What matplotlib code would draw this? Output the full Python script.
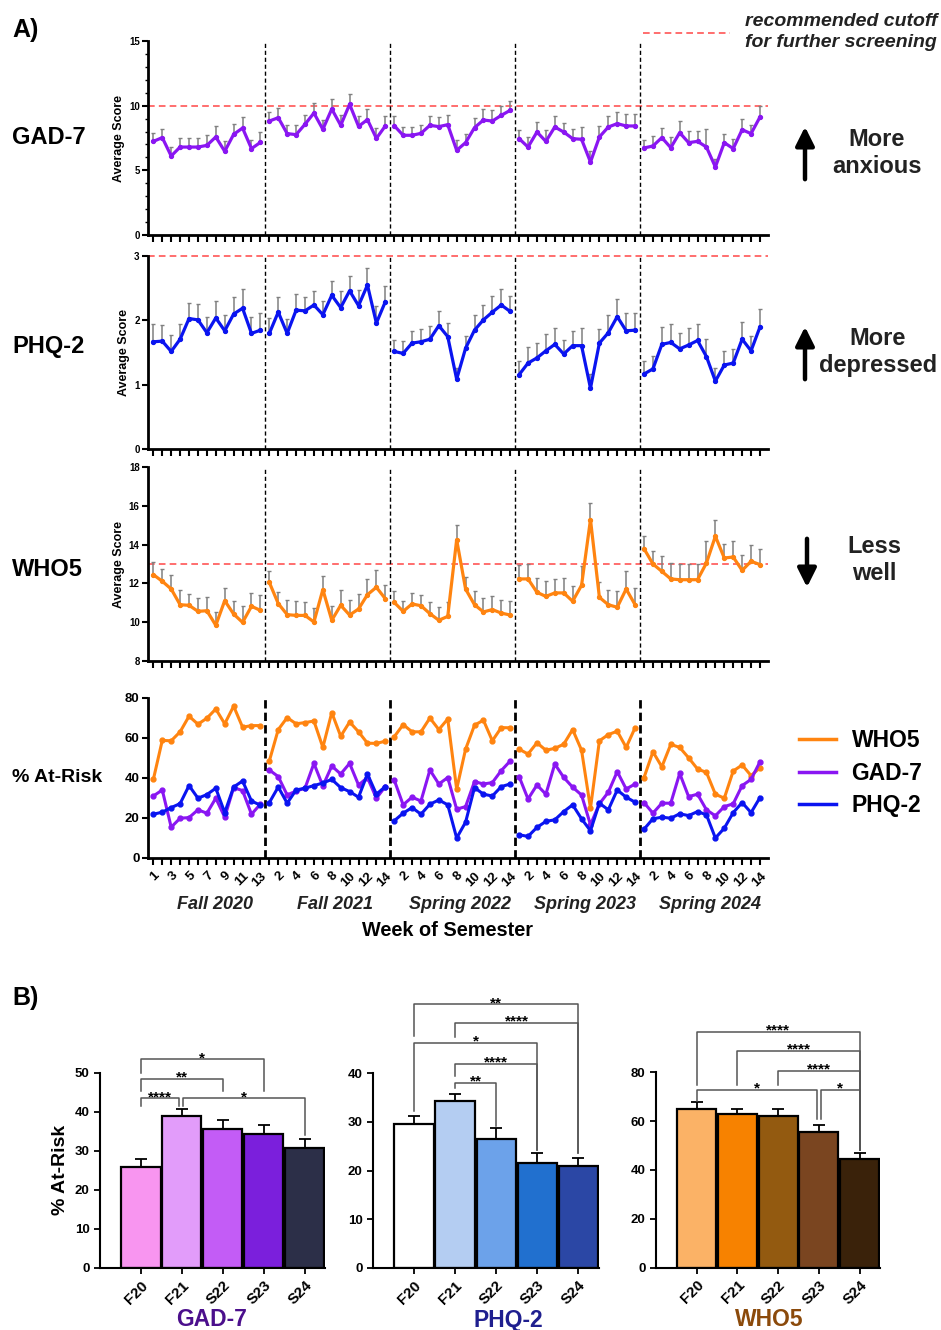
import numpy as np
import matplotlib.pyplot as plt
from matplotlib.lines import Line2D
from matplotlib.patches import FancyArrowPatch
from matplotlib.transforms import blended_transform_factory

plt.rcParams['font.family'] = ['Liberation Sans', 'DejaVu Sans']
plt.rcParams['font.weight'] = 'bold'
plt.rcParams['axes.labelweight'] = 'bold'

# ---------------- Panel A data (one list per semester) ----------------
semesters = ['Fall 2020', 'Fall 2021', 'Spring 2022', 'Spring 2023', 'Spring 2024']
n_weeks = [13, 14, 14, 14, 14]

gad7_mean = [
    [7.24, 7.53, 6.11, 6.80, 6.80, 6.80, 6.93, 7.58, 6.47, 7.78, 8.27, 6.68, 7.16],
    [8.81, 9.07, 7.84, 7.76, 8.56, 9.43, 8.17, 9.74, 8.48, 10.10, 8.40, 8.92, 7.47, 8.43],
    [8.45, 7.71, 7.71, 7.86, 8.48, 8.38, 8.53, 6.55, 7.14, 8.30, 8.89, 8.81, 9.25, 9.64],
    [7.45, 6.80, 7.96, 7.24, 8.35, 7.96, 7.45, 7.40, 5.64, 7.58, 8.35, 8.61, 8.43, 8.43],
    [6.73, 6.88, 7.53, 6.75, 7.91, 7.14, 7.24, 6.80, 5.26, 7.14, 6.68, 8.14, 7.84, 9.12],
]
gad7_err = [
    [0.64, 0.70, 0.67, 0.72, 0.72, 0.72, 0.77, 0.82, 0.77, 0.77, 0.85, 0.70, 0.80],
    [0.70, 0.75, 0.64, 0.72, 0.72, 0.80, 0.70, 0.80, 0.80, 0.82, 0.82, 0.82, 0.80, 0.80],
    [0.72, 0.64, 0.64, 0.67, 0.72, 0.72, 0.77, 0.82, 0.64, 0.77, 0.82, 0.82, 0.72, 0.72],
    [0.64, 0.77, 0.77, 0.85, 0.82, 0.70, 0.72, 0.95, 0.82, 0.82, 0.82, 0.88, 0.90, 0.90],
    [0.64, 0.75, 0.77, 0.82, 0.88, 0.90, 0.80, 1.37, 0.64, 0.70, 0.77, 0.85, 0.64, 0.82],
]

phq2_mean = [
    [1.67, 1.68, 1.52, 1.71, 2.03, 2.01, 1.81, 2.04, 1.84, 2.10, 2.19, 1.80, 1.85],
    [1.80, 2.13, 1.80, 2.16, 2.15, 2.24, 2.09, 2.39, 2.20, 2.46, 2.23, 2.55, 1.96, 2.29],
    [1.52, 1.49, 1.65, 1.67, 1.71, 1.92, 1.75, 1.09, 1.57, 1.85, 2.01, 2.13, 2.24, 2.14],
    [1.16, 1.34, 1.42, 1.53, 1.63, 1.48, 1.61, 1.61, 0.95, 1.65, 1.81, 2.06, 1.84, 1.85],
    [1.17, 1.25, 1.63, 1.66, 1.56, 1.62, 1.69, 1.44, 1.06, 1.31, 1.34, 1.71, 1.53, 1.90],
]
phq2_err = [
    [0.27, 0.25, 0.25, 0.24, 0.24, 0.25, 0.24, 0.27, 0.25, 0.27, 0.30, 0.26, 0.26],
    [0.24, 0.23, 0.23, 0.25, 0.22, 0.21, 0.21, 0.23, 0.25, 0.23, 0.25, 0.26, 0.26, 0.25],
    [0.18, 0.19, 0.18, 0.20, 0.21, 0.22, 0.21, 0.18, 0.19, 0.23, 0.23, 0.25, 0.25, 0.24],
    [0.21, 0.25, 0.23, 0.26, 0.25, 0.21, 0.23, 0.27, 0.22, 0.22, 0.27, 0.27, 0.27, 0.27],
    [0.20, 0.20, 0.27, 0.28, 0.24, 0.27, 0.25, 0.27, 0.21, 0.22, 0.22, 0.27, 0.23, 0.28],
]

who5_mean = [
    [12.45, 12.11, 11.71, 10.90, 10.87, 10.56, 10.59, 9.84, 11.11, 10.42, 9.99, 10.82, 10.61],
    [12.05, 10.96, 10.39, 10.35, 10.35, 10.01, 11.68, 10.10, 10.87, 10.37, 10.68, 11.42, 11.80, 11.21],
    [11.02, 10.56, 10.94, 10.85, 10.44, 10.10, 10.30, 14.25, 11.71, 10.90, 10.53, 10.65, 10.47, 10.37],
    [12.23, 12.23, 11.54, 11.33, 11.51, 11.51, 11.08, 11.90, 15.29, 11.28, 10.90, 10.77, 11.71, 10.90],
    [13.79, 13.00, 12.62, 12.23, 12.19, 12.19, 12.19, 13.05, 14.43, 13.31, 13.36, 12.67, 13.14, 12.97],
]
who5_err = [
    [0.67, 0.64, 0.70, 0.74, 0.60, 0.69, 0.70, 0.70, 0.64, 0.65, 0.82, 0.69, 0.79],
    [0.57, 0.58, 0.76, 0.74, 0.67, 0.70, 0.72, 0.76, 0.81, 0.79, 0.77, 0.82, 0.88, 0.72],
    [0.57, 0.52, 0.57, 0.53, 0.60, 0.69, 0.72, 0.74, 0.62, 0.70, 0.70, 0.70, 0.70, 0.74],
    [0.74, 0.79, 0.72, 0.77, 0.72, 0.77, 0.81, 1.01, 0.86, 0.77, 0.77, 0.84, 0.94, 0.88],
    [0.67, 0.65, 0.77, 0.82, 0.82, 0.82, 0.82, 1.12, 0.82, 0.72, 0.81, 0.77, 0.82, 0.82],
]

risk_who5 = [
    [39.3, 58.8, 58.6, 63.1, 70.9, 66.9, 69.9, 74.5, 67.1, 75.9, 65.4, 66.2, 66.2],
    [48.5, 64.2, 70.2, 67.1, 67.7, 68.5, 55.3, 72.7, 60.9, 68.0, 63.1, 57.4, 57.3, 58.4],
    [60.6, 66.7, 63.1, 63.1, 70.0, 64.2, 69.5, 34.4, 54.4, 66.4, 68.9, 58.6, 65.2, 65.1],
    [54.4, 52.0, 57.6, 53.9, 54.8, 56.9, 64.2, 53.9, 24.9, 58.6, 61.7, 63.4, 55.3, 65.1],
    [40.2, 53.1, 45.6, 56.8, 55.3, 50.1, 44.5, 42.8, 31.9, 29.9, 43.5, 46.5, 41.2, 45.1],
]
risk_gad7 = [
    [31.0, 34.0, 15.4, 19.9, 20.2, 24.1, 22.4, 29.9, 20.4, 35.2, 33.7, 21.9, 26.9],
    [44.0, 40.7, 31.5, 33.5, 34.9, 47.3, 36.0, 46.0, 42.0, 47.3, 36.5, 40.2, 29.9, 35.7],
    [39.0, 26.6, 30.4, 28.5, 44.0, 37.0, 40.2, 24.4, 25.7, 38.2, 37.0, 37.7, 43.7, 48.5],
    [40.7, 29.5, 36.5, 31.9, 47.0, 40.3, 35.4, 31.5, 16.6, 27.1, 32.9, 43.2, 34.5, 37.0],
    [27.7, 22.4, 27.4, 27.4, 42.3, 30.7, 31.9, 24.1, 21.1, 25.7, 27.1, 36.2, 39.3, 48.1],
]
risk_phq2 = [
    [21.9, 22.9, 25.2, 27.2, 36.2, 29.9, 31.7, 34.9, 22.7, 35.5, 38.5, 28.5, 26.4],
    [27.7, 35.5, 27.4, 34.0, 34.9, 36.2, 37.5, 39.3, 35.2, 33.2, 30.4, 42.0, 31.9, 35.7],
    [18.6, 22.4, 25.2, 21.9, 26.9, 29.0, 26.6, 10.0, 17.9, 35.2, 31.9, 31.0, 35.7, 37.0],
    [11.6, 10.8, 15.3, 18.3, 19.1, 23.2, 26.6, 19.6, 13.6, 27.4, 24.1, 34.0, 30.4, 27.9],
    [14.4, 19.6, 20.4, 19.9, 22.1, 21.2, 23.2, 21.6, 10.0, 14.9, 22.7, 27.7, 22.7, 30.2],
]

# ---------------- Panel B data ----------------
sem_short = ['F20', 'F21', 'S22', 'S23', 'S24']
gad7_risk = [25.8, 38.9, 35.6, 34.4, 30.7]
gad7_risk_err = [2.0, 1.7, 2.2, 2.1, 2.2]
phq2_risk = [29.6, 34.4, 26.4, 21.6, 21.0]
phq2_risk_err = [1.6, 1.3, 2.3, 2.1, 1.5]
who5_risk = [65.0, 62.9, 62.1, 55.4, 44.5]
who5_risk_err = [2.9, 2.2, 2.7, 2.9, 2.6]

gad7_sig = [(0, 3, '*'), (0, 2, '**'), (0, 1, '****'), (1, 4, '*')]
phq2_sig = [(0, 4, '**'), (1, 4, '****'), (0, 3, '*'), (1, 3, '****'), (1, 2, '**')]
who5_sig = [(0, 4, '****'), (1, 4, '****'), (2, 4, '****'), (0, 3, '*'), (3, 4, '*')]

# ---------------- styling ----------------
C_GAD = '#8A16F2'
C_PHQ = '#0A14F0'
C_WHO = '#FF8410'
C_CUT = '#FF5555'
W, H = 941, 1330

fig = plt.figure(figsize=(W / 100, H / 100), dpi=100)


def axes_px(left, top, right, bottom):
    return fig.add_axes([left / W, 1 - bottom / H, (right - left) / W, (bottom - top) / H])


def px(x, y):
    return x / W, 1 - y / H


total = sum(n_weeks)
x_all = np.arange(total)
starts = np.cumsum([0] + n_weeks[:-1])
dividers = [s - 0.5 for s in starts[1:]]


def style_week_axis(ax):
    for s in ['top', 'right']:
        ax.spines[s].set_visible(False)
    for s in ['left', 'bottom']:
        ax.spines[s].set_linewidth(2)
    ax.set_xlim(-0.6, 68.9)
    ax.set_xticks(x_all)
    ax.tick_params(axis='x', length=5, width=1.5)
    ax.tick_params(axis='y', length=4, width=1.5, labelsize=7, pad=2)
    ax.tick_params(axis='y', which='minor', length=2.5, width=1)


def week_panel(ax, means, errs, color, ylim, yticks, cutoff):
    for st, m, e in zip(starts, means, errs):
        xs = np.arange(st, st + len(m))
        ax.errorbar(xs, m, yerr=[np.zeros(len(e)), e], fmt='none', ecolor='#808080',
                    elinewidth=1.1, capsize=1.5, capthick=1, zorder=2)
        ax.plot(xs, m, color=color, lw=2.3, marker='o', ms=2.8, zorder=3)
    ax.axhline(cutoff, color=C_CUT, lw=1.2, ls=(0, (4, 2.5)), zorder=1, clip_on=False)
    for d in dividers:
        ax.axvline(d, color='black', lw=1, ls=(0, (3, 2)), zorder=1)
    ax.set_ylim(*ylim)
    ax.set_yticks(yticks)
    ax.set_xticklabels([])
    ax.set_ylabel('Average Score', fontsize=9, labelpad=3)
    style_week_axis(ax)


ax_gad = axes_px(148, 41, 768, 235)
week_panel(ax_gad, gad7_mean, gad7_err, C_GAD, (0, 15), [0, 5, 10, 15], 10)
ax_gad.set_yticks(np.arange(0, 16, 1), minor=True)

ax_phq = axes_px(148, 256, 768, 449.5)
week_panel(ax_phq, phq2_mean, phq2_err, C_PHQ, (0, 3), [0, 1, 2, 3], 3)

ax_who = axes_px(148, 467, 768, 661)
week_panel(ax_who, who5_mean, who5_err, C_WHO, (8, 18), [8, 10, 12, 14, 16, 18], 13)

# at-risk panel
ax_risk = axes_px(148, 698, 768, 858)
for series, color in [(risk_who5, C_WHO), (risk_gad7, C_GAD), (risk_phq2, C_PHQ)]:
    for st, vals in zip(starts, series):
        xs = np.arange(st, st + len(vals))
        ax_risk.plot(xs, vals, color=color, lw=2.2, marker='o', ms=3.5, zorder=3)
for d in dividers:
    ax_risk.axvline(d, color='black', lw=2, ls=(0, (3, 1.5)), zorder=1)
ax_risk.set_ylim(0, 80)
ax_risk.set_yticks([0, 20, 40, 60, 80])
style_week_axis(ax_risk)
ax_risk.tick_params(axis='y', labelsize=9.5)
week_labels = []
for s, n in enumerate(n_weeks):
    for w in range(1, n + 1):
        show = (w % 2 == 1) if s == 0 else (w % 2 == 0)
        week_labels.append(str(w) if show else '')
ax_risk.set_xticklabels(week_labels, rotation=45, ha='right', rotation_mode='anchor', fontsize=9.5)

trans = blended_transform_factory(ax_risk.transData, ax_risk.transAxes)
for st, n, name in zip(starts, n_weeks, semesters):
    ax_risk.text(st + (n - 1) / 2 + 0.9, -0.29, name, transform=trans, ha='center', va='center',
                 fontsize=13, style='italic', color='#222222')
fig.text(*px(448, 931), 'Week of Semester', ha='center', va='center', fontsize=14.3)

legend_handles = [Line2D([], [], color=C_WHO, lw=2.5), Line2D([], [], color=C_GAD, lw=2.5),
                  Line2D([], [], color=C_PHQ, lw=2.5)]
ax_risk.legend(legend_handles, ['WHO5', 'GAD-7', 'PHQ-2'], loc='center left',
               bbox_to_anchor=(1.035, 0.53), frameon=False, fontsize=16.5, handlelength=1.6,
               handletextpad=0.7, labelspacing=0.42, borderaxespad=0)

# left labels
fig.text(*px(12, 30), 'A)', fontsize=18, va='center')
fig.text(*px(12, 137), 'GAD-7', fontsize=17, va='center')
fig.text(*px(12, 347), 'PHQ-2', fontsize=17, va='center')
fig.text(*px(12, 570), 'WHO5', fontsize=17, va='center')
fig.text(*px(12, 778), '% At-Risk', fontsize=14, va='center')
fig.text(*px(12, 998), 'B)', fontsize=18, va='center')

# right annotations
fig.add_artist(Line2D([643 / W, 730 / W], [1 - 33 / H, 1 - 33 / H], color=C_CUT, lw=1.2,
                      ls=(0, (4, 2.5))))
fig.text(*px(841, 32), 'recommended cutoff\nfor further screening', ha='center', va='center',
         fontsize=14, style='italic', linespacing=1.3, color='#222222')

arrows = [(805, 182, 124, 'More\nanxious', 877, 153),
          (805, 382, 324, 'More\ndepressed', 878, 352),
          (807, 536, 590, 'Less\nwell', 874, 560)]
for ax_x, y0, y1, label, tx, ty in arrows:
    fig.add_artist(FancyArrowPatch(px(ax_x, y0), px(ax_x, y1), transform=fig.transFigure,
                                   arrowstyle='-|>', mutation_scale=28, lw=3.2, color='black'))
    fig.text(*px(tx, ty), label, ha='center', va='center', fontsize=17, linespacing=1.2,
             color='#222222')


# ---------------- Panel B ----------------
def bar_panel(ax, vals, errs, colors, ylim, yticks, sig, layout):
    x = np.arange(len(vals))
    ax.bar(x, vals, width=0.96, color=colors, edgecolor='black', linewidth=1.6, zorder=2)
    ax.errorbar(x, vals, yerr=[np.zeros(len(errs)), errs], fmt='none', ecolor='black',
                elinewidth=1.3, capsize=4.2, capthick=1.3, zorder=1)
    ax.set_xlim(-1.0, 4.5)
    ax.set_ylim(*ylim)
    ax.set_yticks(yticks)
    ax.set_xticks(x)
    ax.set_xticklabels(sem_short, rotation=45, ha='right', rotation_mode='anchor', fontsize=11)
    ax.tick_params(axis='y', labelsize=9.5, length=4, width=1.3)
    ax.tick_params(axis='x', length=4, width=1.3)
    for s in ['top', 'right']:
        ax.spines[s].set_visible(False)
    for s in ['left', 'bottom']:
        ax.spines[s].set_linewidth(1.5)
    span = ylim[1] - ylim[0]
    for (i, j, txt), (xi, xj, yb, yl, yr) in zip(sig, layout):
        ax.plot([i + xi, i + xi, j + xj, j + xj], [yl, yb, yb, yr], color='#555555', lw=1.1,
                clip_on=False, zorder=4)
        ax.text((i + xi + j + xj) / 2, yb - span * 0.03, txt, ha='center', va='bottom',
                fontsize=11, clip_on=False)


ax_b1 = axes_px(100, 1072.7, 325, 1268)
bar_panel(ax_b1, gad7_risk, gad7_risk_err,
          ['#F895F0', '#E29CFA', '#C35CF6', '#7B1FDC', '#2C2F48'],
          (0, 50), [0, 10, 20, 30, 40, 50], gad7_sig,
          [(0, 0, 53.4, 49.8, 45.3), (0, 0, 48.4, 45.3, 45.3), (0, -0.06, 43.4, 41.5, 41.6),
           (0.04, 0, 43.4, 41.6, 34.0)])
ax_b1.set_ylabel('% At-Risk', fontsize=14, labelpad=4)

ax_b2 = axes_px(373, 1073.3, 599, 1268)
bar_panel(ax_b2, phq2_risk, phq2_risk_err,
          ['#FFFFFF', '#B4CDF2', '#6CA2EA', '#2170CF', '#2B47A5'],
          (0, 40), [0, 10, 20, 30, 40], phq2_sig,
          [(0, 0, 54.2, 47.6, 23.6), (0, 0, 50.4, 47.4, 23.6), (0, 0, 46.2, 32.2, 24.3),
           (0, 0, 41.9, 39.5, 24.3), (0, 0, 38.1, 36.9, 29.2)])

ax_b3 = axes_px(656, 1072.3, 880, 1267.7)
bar_panel(ax_b3, who5_risk, who5_risk_err,
          ['#FBB266', '#F78200', '#935A10', '#7A4520', '#3A220A'],
          (0, 80), [0, 20, 40, 60, 80], who5_sig,
          [(0, 0, 96.7, 74.8, 48.2), (0, 0, 88.7, 74.8, 48.2), (0, 0, 80.5, 74.8, 48.2),
           (0, -0.05, 72.8, 68.4, 60.8), (0.05, 0, 72.8, 60.8, 48.2)])

fig.text(*px(212, 1320), 'GAD-7', ha='center', va='center', fontsize=16.5, color='#4B0F8C')
fig.text(*px(508, 1320), 'PHQ-2', ha='center', va='center', fontsize=16.5, color='#1F1F8F')
fig.text(*px(769, 1320), 'WHO5', ha='center', va='center', fontsize=16.5, color='#8B4A0B')

fig.savefig('out.png', dpi=100)
